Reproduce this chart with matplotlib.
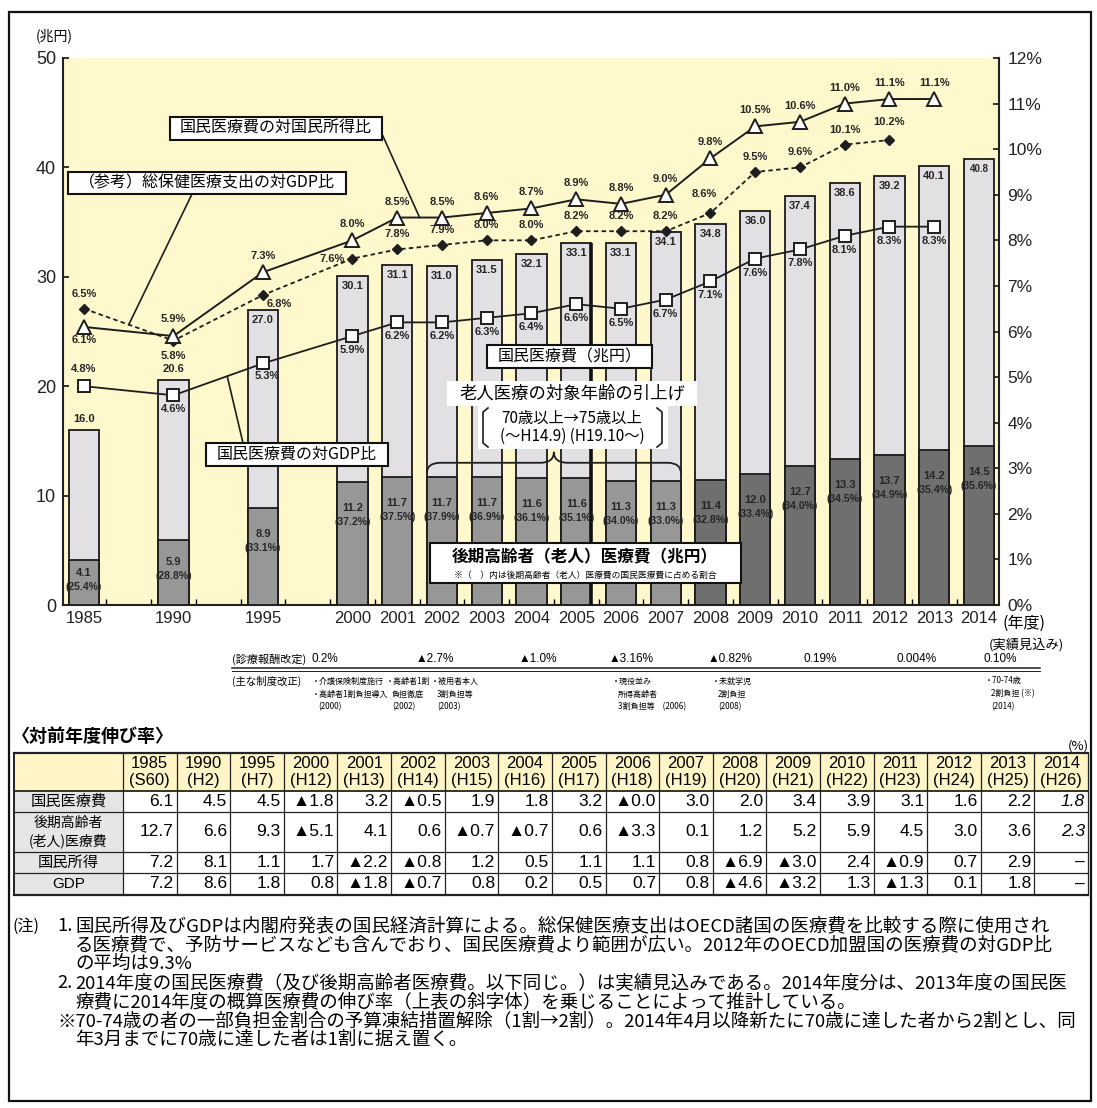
import math
import matplotlib
matplotlib.use("Agg")
import matplotlib.pyplot as plt
from matplotlib import font_manager
from matplotlib.patches import Rectangle, PathPatch, ConnectionPatch
from matplotlib.path import Path

W, H, DPI = 1097, 1108, 100

JP = "Noto Sans CJK JP"
LAT = "Liberation Sans"
_names = {f.name for f in font_manager.fontManager.ttflist}
NUM = "Liberation Sans Narrow" if "Liberation Sans Narrow" in _names else LAT
plt.rcParams["font.family"] = [JP, "DejaVu Sans"]

# ---------------- data ----------------
years = [1985, 1990, 1995, 2000, 2001, 2002, 2003, 2004, 2005, 2006,
         2007, 2008, 2009, 2010, 2011, 2012, 2013, 2014]
eras = ["S60", "H2", "H7", "H12", "H13", "H14", "H15", "H16", "H17", "H18",
        "H19", "H20", "H21", "H22", "H23", "H24", "H25", "H26"]
# 国民医療費（兆円）
total_exp = [16.0, 20.6, 27.0, 30.1, 31.1, 31.0, 31.5, 32.1, 33.1, 33.1,
             34.1, 34.8, 36.0, 37.4, 38.6, 39.2, 40.1, 40.8]
# 後期高齢者（老人）医療費（兆円）と国民医療費に占める割合（%）
elderly_exp = [4.1, 5.9, 8.9, 11.2, 11.7, 11.7, 11.7, 11.6, 11.6, 11.3,
               11.3, 11.4, 12.0, 12.7, 13.3, 13.7, 14.2, 14.5]
elderly_share = [25.4, 28.8, 33.1, 37.2, 37.5, 37.9, 36.9, 36.1, 35.1, 34.0,
                 33.0, 32.8, 33.4, 34.0, 34.5, 34.9, 35.4, 35.6]
# 国民医療費の対国民所得比（%）, 1985-2013
ratio_income = [6.1, 5.9, 7.3, 8.0, 8.5, 8.5, 8.6, 8.7, 8.9, 8.8,
                9.0, 9.8, 10.5, 10.6, 11.0, 11.1, 11.1]
# 国民医療費の対GDP比（%）, 1985-2013
ratio_gdp = [4.8, 4.6, 5.3, 5.9, 6.2, 6.2, 6.3, 6.4, 6.6, 6.5,
             6.7, 7.1, 7.6, 7.8, 8.1, 8.3, 8.3]
# （参考）総保健医療支出の対GDP比（%）, 1985-2012
oecd_gdp = [6.5, 5.8, 6.8, 7.6, 7.8, 7.9, 8.0, 8.0, 8.2, 8.2,
            8.2, 8.6, 9.5, 9.6, 10.1, 10.2]

# 診療報酬改定
fee_years = [2000, 2002, 2004, 2006, 2008, 2010, 2012, 2014]
fee_rates = ["0.2%", "▲2.7%", "▲1.0%", "▲3.16%", "▲0.82%", "0.19%", "0.004%", "0.10%"]
# 主な制度改正
reform_years = [2000, 2002, 2003, 2006, 2008, 2014]
reform_text = [
    ["・介護保険制度施行", "・高齢者1割負担導入", "(2000)"],
    ["・高齢者1割", "負担徹底", "(2002)"],
    ["・被用者本人", "3割負担等", "(2003)"],
    ["・現役並み", "所得高齢者", "3割負担等　(2006)"],
    ["・未就学児", "2割負担", "(2008)"],
    ["・70-74歳", "2割負担 (※)", "(2014)"],
]

# 対前年度伸び率（%）; None = 未公表
growth_total = [6.1, 4.5, 4.5, -1.8, 3.2, -0.5, 1.9, 1.8, 3.2, -0.0,
                3.0, 2.0, 3.4, 3.9, 3.1, 1.6, 2.2, 1.8]
growth_elderly = [12.7, 6.6, 9.3, -5.1, 4.1, 0.6, -0.7, -0.7, 0.6, -3.3,
                  0.1, 1.2, 5.2, 5.9, 4.5, 3.0, 3.6, 2.3]
growth_income = [7.2, 8.1, 1.1, 1.7, -2.2, -0.8, 1.2, 0.5, 1.1, 1.1,
                 0.8, -6.9, -3.0, 2.4, -0.9, 0.7, 2.9, None]
growth_gdp = [7.2, 8.6, 1.8, 0.8, -1.8, -0.7, 0.8, 0.2, 0.5, 0.7,
              0.8, -4.6, -3.2, 1.3, -1.3, 0.1, 1.8, None]
row_labels = ["国民医療費", "後期高齢者\n(老人)医療費", "国民所得", "GDP"]

notes = [
    ("(注)", "1.", "国民所得及びGDPは内閣府発表の国民経済計算による。総保健医療支出はOECD諸国の医療費を比較する際に使用され"),
    ("", "", "る医療費で、予防サービスなども含んでおり、国民医療費より範囲が広い。2012年のOECD加盟国の医療費の対GDP比"),
    ("", "", "の平均は9.3%"),
    ("", "2.", "2014年度の国民医療費（及び後期高齢者医療費。以下同じ。）は実績見込みである。2014年度分は、2013年度の国民医"),
    ("", "", "療費に2014年度の概算医療費の伸び率（上表の斜字体）を乗じることによって推計している。"),
    ("", "※", "70-74歳の者の一部負担金割合の予算凍結措置解除（1割→2割）。2014年4月以降新たに70歳に達した者から2割とし、同"),
    ("", "", "年3月までに70歳に達した者は1割に据え置く。"),
]

# ---------------- layout ----------------
fig = plt.figure(figsize=(W / DPI, H / DPI), dpi=DPI)
fig.patch.set_facecolor("white")


def frac_box(x0, y0, x1, y1):
    return [x0 / W, 1 - y1 / H, (x1 - x0) / W, (y1 - y0) / H]


PL, PR, PT, PB = 63, 999, 58, 605       # plot frame in pixels
X0PX, UNIT = 84, 44.75                  # first slot centre, slot pitch


def slot(y):
    return (y - 1985) / 5 * 2 if y <= 2000 else y - 2000 + 6


xs = [slot(y) for y in years]
ix = {y: i for i, y in enumerate(years)}

ax = fig.add_axes(frac_box(PL, PT, PR, PB))
ax.set_facecolor("#FFF8CC")
ax.set_xlim(-(X0PX - PL) / UNIT, (PR - X0PX) / UNIT)
ax.set_ylim(0, 50)

BW = 0.68
EDGE = "#1a1a1a"
ax.bar(xs, total_exp, BW, color="#E2E0E3", edgecolor=EDGE, linewidth=1.3, zorder=2)
dark = ["#6f6f6f" if y >= 2008 else "#979797" for y in years]
ax.bar(xs, elderly_exp, BW, color=dark, edgecolor=EDGE, linewidth=1.3, zorder=3)
i05 = ix[2005]
ax.vlines(xs[i05] + BW / 2, 0, total_exp[i05], color="#111", lw=2.6, zorder=4)

for s in ("top", "right"):
    ax.spines[s].set_visible(False)
for s in ("left", "bottom"):
    ax.spines[s].set_linewidth(1.5)
    ax.spines[s].set_color("#222")

ax.set_yticks(range(0, 51, 10))
ax.set_yticklabels([str(v) for v in range(0, 51, 10)], family=LAT, fontsize=13)
ax.tick_params(axis="y", direction="in", length=4, width=1.3, pad=5, colors="#222")
ax.set_xticks(xs)
ax.set_xticklabels([str(y) for y in years], family=LAT, fontsize=12)
ax.tick_params(axis="x", length=0, pad=4, colors="#222")
ax.set_xticks([i + 0.5 for i in range(20)], minor=True)
ax.tick_params(axis="x", which="minor", direction="in", length=4, width=1.0)

ax2 = ax.twinx()
ax2.set_ylim(0, 12)
ax2.set_yticks(range(13))
ax2.set_yticklabels([f"{v}%" for v in range(13)], family=LAT, fontsize=12.5)
ax2.tick_params(axis="y", direction="in", length=4, width=1.3, pad=6, colors="#222")
for s in ("top", "left", "bottom"):
    ax2.spines[s].set_visible(False)
ax2.spines["right"].set_linewidth(1.5)
ax2.spines["right"].set_color("#222")

LBL = dict(textcoords="offset pixels", ha="center", va="center", family=NUM,
           weight="bold", color="#262626")

# bar labels
for i, y in enumerate(years):
    if y <= 1990:
        ax.annotate(f"{total_exp[i]:.1f}", (xs[i], total_exp[i]), xytext=(0, 11),
                    fontsize=8, zorder=6, **LBL)
    else:
        ax.annotate(f"{total_exp[i]:.1f}", (xs[i], total_exp[i]), xytext=(0, -10),
                    fontsize=7 if y == 2014 else 8, zorder=6, **LBL)
    d1, d2 = {1985: (-13, -27), 1990: (-22, -36)}.get(y, (-26, -40))
    ax.annotate(f"{elderly_exp[i]:.1f}", (xs[i], elderly_exp[i]), xytext=(0, d1),
                fontsize=8, zorder=6, **LBL)
    ax.annotate(f"({elderly_share[i]:.1f}%)", (xs[i], elderly_exp[i]), xytext=(0, d2),
                fontsize=7.5, zorder=6, **LBL)

# ratio lines
LC = "#1e1e1e"
n_inc, n_gdp, n_oecd = len(ratio_income), len(ratio_gdp), len(oecd_gdp)
ax2.plot(xs[:n_oecd], oecd_gdp, linestyle=(0, (2.5, 1.8)), color=LC, lw=1.3,
         marker="D", ms=5.5, mfc=LC, mec=LC, zorder=5)
ax2.plot(xs[:n_inc], ratio_income, "-", color=LC, lw=1.4,
         marker="^", ms=10, mfc="white", mec=LC, mew=1.4, zorder=6)
ax2.plot(xs[:n_gdp], ratio_gdp, "-", color=LC, lw=1.3,
         marker="s", ms=9, mfc="white", mec=LC, mew=1.4, zorder=6)


def pct_label(x, v, dx, dy):
    ax2.annotate(f"{v:.1f}%", (x, v), xytext=(dx, dy), fontsize=8, zorder=7, **LBL)


inc_off = {1985: (0, -13), 1990: (0, 17)}
for i, v in enumerate(ratio_income):
    pct_label(xs[i], v, *inc_off.get(years[i], (0, 16)))
oecd_off = {1990: (0, -15), 1995: (16, -9), 2000: (-20, 0), 2008: (-6, 19), 2012: (0, 18)}
for i, v in enumerate(oecd_gdp):
    pct_label(xs[i], v, *oecd_off.get(years[i], (0, 15)))
gdp_off = {1985: (0, 17), 1995: (4, -13)}
for i, v in enumerate(ratio_gdp):
    pct_label(xs[i], v, *gdp_off.get(years[i], (0, -14)))

# brace over 2002-2007 elderly bars
xa = xs[ix[2002]] - BW / 2
xb = xs[ix[2007]] + BW / 2
xm = (xa + xb) / 2
yb, yp, ye = 13.0, 14.0, 12.0
verts = [(xa, ye), (xa, yb), (xa + 0.3, yb), (xm - 0.3, yb), (xm, yb), (xm, yp),
         (xm, yb), (xm + 0.3, yb), (xb - 0.3, yb), (xb, yb), (xb, ye)]
codes = [Path.MOVETO, Path.CURVE3, Path.CURVE3, Path.LINETO, Path.CURVE3, Path.CURVE3,
         Path.CURVE3, Path.CURVE3, Path.LINETO, Path.CURVE3, Path.CURVE3]
ax.add_patch(PathPatch(Path(verts, codes), fill=False, ec=LC, lw=1.3, zorder=5))

# ---------------- overlay in pixel coordinates ----------------
ov = fig.add_axes([0, 0, 1, 1], zorder=10)
ov.set_xlim(0, W)
ov.set_ylim(H, 0)
ov.set_axis_off()

ov.add_patch(Rectangle((9, 12), 1082, 1089, fill=False, ec="#111", lw=1.6))
ov.text(54, 36, "(兆円)", ha="center", va="center", fontsize=10)
ov.text(1003, 623, "(年度)", ha="left", va="center", fontsize=11.5)
ov.text(1026, 645, "(実績見込み)", ha="center", va="center", fontsize=9.5)


def boxed(x0, y0, x1, y1, text, size, lw=1.5):
    ov.add_patch(Rectangle((x0, y0), x1 - x0, y1 - y0, fc="white", ec="#111", lw=lw, zorder=5))
    ov.text((x0 + x1) / 2, (y0 + y1) / 2, text, ha="center", va="center",
            fontsize=size, zorder=6)


def leader(px, py, xd, yd):
    ov.add_artist(ConnectionPatch((px, py), (xd, yd), coordsA=ov.transData,
                                  coordsB=ax2.transData, color=LC, lw=1.2, zorder=4))


boxed(170, 117, 382, 140, "国民医療費の対国民所得比", 11.5)
leader(382, 134, (xs[ix[2001]] + xs[ix[2002]]) / 2, ratio_income[ix[2001]])
boxed(68, 172, 346, 194, "（参考）総保健医療支出の対GDP比", 11.5)
leader(192, 194, (xs[0] + xs[1]) / 2, (oecd_gdp[0] + oecd_gdp[1]) / 2)
boxed(206, 443, 388, 466, "国民医療費の対GDP比", 11.5)
leader(243, 443, xs[1] + 0.6 * (xs[2] - xs[1]),
       ratio_gdp[1] + 0.6 * (ratio_gdp[2] - ratio_gdp[1]))
boxed(487, 345, 652, 368, "国民医療費（兆円）", 11.5)

ov.add_patch(Rectangle((447, 381), 250, 25, fc="white", ec="none", zorder=5))
ov.text(572, 393, "老人医療の対象年齢の引上げ", ha="center", va="center", fontsize=12.5, zorder=6)
ov.add_patch(Rectangle((478, 406), 190, 43, fc="white", ec="none", zorder=5))
ov.text(572, 418, "70歳以上→75歳以上", ha="center", va="center", fontsize=11, zorder=6)
ov.text(572, 436, "(～H14.9) (H19.10～)", ha="center", va="center", fontsize=11, zorder=6)
for xb0, sgn in ((483, 1), (662, -1)):
    ov.plot([xb0 + 5 * sgn, xb0, xb0, xb0 + 5 * sgn], [408, 412, 443, 447],
            color=LC, lw=1.2, zorder=6)

ov.add_patch(Rectangle((430, 543), 311, 40, fc="white", ec="#111", lw=1.5, zorder=5))
ov.text(585, 557, "後期高齢者（老人）医療費（兆円）", ha="center", va="center",
        fontsize=12, weight="bold", zorder=6)
ov.text(585, 575, "※（　）内は後期高齢者（老人）医療費の国民医療費に占める割合",
        ha="center", va="center", fontsize=6.3, zorder=6)

# 診療報酬改定 / 主な制度改正 (text columns under the axis)
fee_x = [325, 435, 538, 631, 730, 820, 917, 1000]
ov.text(232, 659, "(診療報酬改定)", ha="left", va="center", fontsize=8)
for xp, r in zip(fee_x, fee_rates):
    ov.text(xp, 659, r, ha="center", va="center", fontsize=8.5, family=[LAT, JP])
ov.plot([232, 1040], [667.5, 667.5], color=LC, lw=1.1)
ov.plot([232, 1040], [670.5, 670.5], color=LC, lw=0.7)
ov.text(232, 681, "(主な制度改正)", ha="left", va="center", fontsize=7.5)
reform_x = [312, 386, 431, 612, 712, 985]
for xp, lines in zip(reform_x, reform_text):
    for k, ln in enumerate(lines):
        indent = 0 if (k == 0 or ln.startswith("・")) else 6
        ov.text(xp + indent, 681 + 13 * k, ln, ha="left", va="center", fontsize=5.8)

# ---------------- growth table ----------------
ov.text(12, 737, "〈対前年度伸び率〉", ha="left", va="center", fontsize=13, weight="bold")
ov.text(1089, 746, "(%)", ha="right", va="center", fontsize=9.5)

TL, TC, TR = 14, 123, 1088
row_y = [753, 791, 812, 852, 873, 895]
cw = (TR - TC) / len(years)
YEL = "#FFF5C6"
GRY = "#E6E6E6"
ov.add_patch(Rectangle((TL, row_y[0]), TR - TL, row_y[1] - row_y[0], fc=YEL, ec="none"))
ov.add_patch(Rectangle((TL, row_y[1]), TC - TL, row_y[-1] - row_y[1], fc=GRY, ec="none"))
for k in range(len(years) + 1):
    xk = TC + k * cw
    ov.plot([xk, xk], [row_y[0], row_y[-1]], color="#222", lw=0.9)
ov.plot([TL, TL], [row_y[0], row_y[-1]], color="#222", lw=1.4)
for k, yk in enumerate(row_y):
    lw = 1.6 if k in (0, len(row_y) - 1) else (1.3 if k == 1 else 0.9)
    ov.plot([TL, TR], [yk, yk], color="#222", lw=lw)

for k, (y, e) in enumerate(zip(years, eras)):
    cx = TC + (k + 0.5) * cw
    ov.text(cx, (row_y[0] + row_y[1]) / 2, f"{y}\n({e})", ha="center", va="center",
            family=LAT, fontsize=12, linespacing=1.12)


def cell_text(v):
    if v is None:
        return "–"
    if math.copysign(1.0, v) < 0:
        return f"▲{abs(v):.1f}"
    return f"{v:.1f}"


rows = [growth_total, growth_elderly, growth_income, growth_gdp]
for r, (vals, lab) in enumerate(zip(rows, row_labels)):
    cy = (row_y[r + 1] + row_y[r + 2]) / 2
    ov.text((TL + TC) / 2, cy, lab, ha="center", va="center",
            fontsize=10 if r == 1 else 11, linespacing=1.25,
            family=[LAT, JP] if lab == "GDP" else [JP])
    for k, v in enumerate(vals):
        italic = years[k] == 2014 and v is not None
        ov.text(TC + (k + 1) * cw - 3, cy, cell_text(v), ha="right", va="center",
                family=[LAT, JP], fontsize=12.5, style="italic" if italic else "normal")

# ---------------- notes ----------------
NOTE_FS = 13.3
ny = 926
for head, num, body in notes:
    if head:
        ov.text(12, ny, head, ha="left", va="center", fontsize=11.5)
    if num == "※":
        ov.text(57, ny, "※" + body, ha="left", va="center", fontsize=NOTE_FS)
    else:
        if num:
            ov.text(57, ny, num, ha="left", va="center", fontsize=NOTE_FS)
        ov.text(75, ny, body, ha="left", va="center", fontsize=NOTE_FS)
    ny += 19

fig.savefig("out.png", dpi=DPI)
